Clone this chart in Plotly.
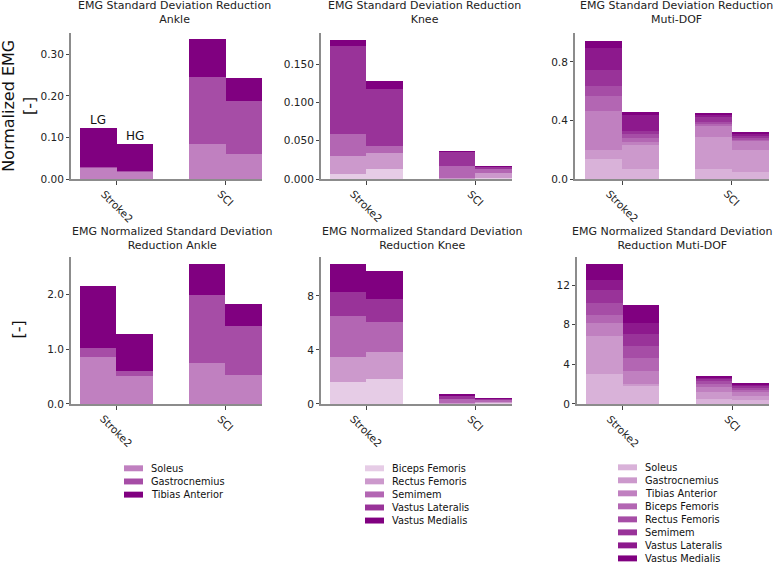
import plotly.graph_objects as go
from plotly.subplots import make_subplots

# ---------------- data ----------------
categories = ["Stroke2", "SCI"]
groups = ["LG", "HG"]
ankle_muscles = ["Soleus", "Gastrocnemius", "Tibias Anterior"]
knee_muscles = ["Biceps Femoris", "Rectus Femoris", "Semimem", "Vastus Lateralis", "Vastus Medialis"]
multi_muscles = ankle_muscles + knee_muscles

# order of each list: [Stroke2 LG, Stroke2 HG, SCI LG, SCI HG]
# EMG Standard Deviation Reduction (top row)
sd_ankle = [
    [0.029, 0.018, 0.085, 0.062],   # Soleus
    [0.002, 0.002, 0.161, 0.126],   # Gastrocnemius
    [0.093, 0.065, 0.091, 0.055],   # Tibias Anterior
]
sd_knee = [
    [0.0065, 0.013, 0.0005, 0.002],   # Biceps Femoris
    [0.0242, 0.021, 0.0010, 0.006],   # Rectus Femoris
    [0.0288, 0.009, 0.0155, 0.0055],  # Semimem
    [0.1151, 0.075, 0.0195, 0.003],   # Vastus Lateralis
    [0.0078, 0.011, 0.0005, 0.001],   # Vastus Medialis
]
sd_multi = [
    [0.142, 0.070, 0.074, 0.052],
    [0.056, 0.162, 0.214, 0.146],
    [0.270, 0.027, 0.079, 0.068],
    [0.101, 0.027, 0.013, 0.009],
    [0.067, 0.024, 0.014, 0.010],
    [0.114, 0.023, 0.030, 0.013],
    [0.147, 0.107, 0.021, 0.014],
    [0.049, 0.022, 0.012, 0.010],
]
# EMG Normalized Standard Deviation Reduction (bottom row)
nsd_ankle = [
    [0.855, 0.506, 0.752, 0.530],
    [0.155, 0.084, 1.243, 0.886],
    [1.140, 0.687, 0.555, 0.410],
]
nsd_knee = [
    [1.63, 1.80, 0.02, 0.10],
    [1.86, 2.00, 0.03, 0.09],
    [2.97, 2.25, 0.32, 0.11],
    [1.78, 1.73, 0.27, 0.08],
    [2.10, 2.05, 0.02, 0.01],
]
nsd_multi = [
    [3.00, 1.83, 0.50, 0.33],
    [3.83, 0.17, 0.73, 0.50],
    [1.34, 1.27, 0.44, 0.34],
    [0.83, 1.30, 0.33, 0.26],
    [1.17, 1.26, 0.27, 0.24],
    [1.33, 1.17, 0.23, 0.13],
    [1.00, 1.17, 0.18, 0.10],
    [1.57, 1.76, 0.15, 0.10],
]

titles = [
    "EMG Standard Deviation Reduction<br>Ankle",
    "EMG Standard Deviation Reduction<br>Knee",
    "EMG Standard Deviation Reduction<br>Muti-DOF",
    "EMG Normalized Standard Deviation<br>Reduction Ankle",
    "EMG Normalized Standard Deviation<br>Reduction Knee",
    "EMG Normalized Standard Deviation<br>Reduction Muti-DOF",
]

# ---------------- styling ----------------
W, H = 778, 569
FONT = "DejaVu Sans"
alpha_ankle = [0.5, 0.7, 1.0]
alpha_knee = [0.2, 0.4, 0.6, 0.8, 1.0]
alpha_multi = [0.3, 0.4, 0.5, 0.6, 0.7, 0.8, 0.9, 1.0]


def purple(a):
    r = round(255 - 127 * a)
    g = round(255 * (1 - a))
    return f"rgb({r},{g},{r})"


def px_x(p):
    return p / W


def px_y(p):
    return 1 - p / H


bar_w = 0.335

panels = [
    # (row, col, muscles, data, alphas, yrange, tickvals, tickformat, xdom px, xrange, title center px)
    (1, 1, ankle_muscles, sd_ankle, alpha_ankle, [0, 0.352], [0, 0.1, 0.2, 0.3], ".2f", (71, 262), [-0.42, 1.335], 174),
    (1, 2, knee_muscles, sd_knee, alpha_knee, [0, 0.191], [0, 0.05, 0.10, 0.15], ".3f", (321, 512), [-0.413, 1.335], 424.5),
    (1, 3, multi_muscles, sd_multi, alpha_multi, [0, 1.0], [0, 0.4, 0.8], ".1f", (575, 769), [-0.43, 1.338], 676),
    (2, 1, ankle_muscles, nsd_ankle, alpha_ankle, [0, 2.68], [0, 1, 2], ".1f", (71, 262), [-0.415, 1.335], 172.5),
    (2, 2, knee_muscles, nsd_knee, alpha_knee, [0, 10.86], [0, 4, 8], "d", (321, 512), [-0.413, 1.335], 422.8),
    (2, 3, multi_muscles, nsd_multi, alpha_multi, [0, 14.8], [0, 4, 8, 12], "d", (577, 769), [-0.417, 1.334], 672.5),
]
ydom_px = {1: (33, 181), 2: (260, 408.3)}
title_cy = {1: 12.5, 2: 241}

fig = make_subplots(rows=2, cols=3)

xpos = []
for i, _ in enumerate(categories):
    xpos += [i - bar_w / 2, i + bar_w / 2]

annotations = []
for k, (row, col, muscles, data, alphas, yr, tv, tf, xd, xr, tcx) in enumerate(panels):
    for j, m in enumerate(muscles):
        fig.add_trace(
            go.Bar(
                x=xpos, y=data[j], width=bar_w, name=m,
                marker=dict(color=purple(alphas[j]), line=dict(width=0)),
                showlegend=False,
                hovertemplate=m + ": %{y}<extra></extra>",
            ),
            row=row, col=col,
        )
    n = k + 1
    xa = "xaxis" if n == 1 else f"xaxis{n}"
    ya = "yaxis" if n == 1 else f"yaxis{n}"
    yd = ydom_px[row]
    fig.update_layout(**{
        xa: dict(domain=[px_x(xd[0]), px_x(xd[1])], range=xr, tickvals=[0, 1],
                 showticklabels=False, ticks="outside", ticklen=4, tickcolor="#444",
                 showline=True, linecolor="#8c8c8c", linewidth=2, showgrid=False,
                 zeroline=False, fixedrange=True),
        ya: dict(domain=[px_y(yd[1]), px_y(yd[0])], range=yr, tickvals=tv,
                 tickformat=tf, ticks="outside", ticklen=3, tickcolor="#444",
                 showline=True, linecolor="#8c8c8c", linewidth=2, showgrid=False,
                 zeroline=False, tickfont=dict(family=FONT, size=10.5, color="#222"),
                 fixedrange=True),
    })
    xref = "x" if n == 1 else f"x{n}"
    # rotated category labels
    for i, c in enumerate(categories):
        annotations.append(dict(
            x=i, xref=xref, y=px_y(yd[1]), yref="paper", yshift=-6,
            text=c, textangle=45, showarrow=False, xanchor="center", yanchor="top",
            font=dict(family=FONT, size=10.5, color="#222"),
        ))
    # subplot title
    annotations.append(dict(
        x=px_x(tcx), xref="paper", y=px_y(title_cy[row]), yref="paper",
        text=titles[k], showarrow=False, xanchor="center", yanchor="middle",
        font=dict(family=FONT, size=11, color="#222"),
    ))

# LG / HG labels on the first panel
lg_tot = sum(d[0] for d in sd_ankle)
hg_tot = sum(d[1] for d in sd_ankle)
for g, xv, yv in [(groups[0], xpos[0], lg_tot), (groups[1], xpos[1], hg_tot)]:
    annotations.append(dict(
        x=xv, xref="x", y=yv, yref="y", yshift=-1, text=g, showarrow=False,
        xanchor="center", yanchor="bottom",
        font=dict(family=FONT, size=12, color="#111"),
    ))

# y-axis labels
annotations.append(dict(
    x=px_x(19), xref="paper", y=px_y(107), yref="paper",
    text="Normalized EMG<br>[-]", textangle=-90, showarrow=False,
    xanchor="center", yanchor="middle",
    font=dict(family=FONT, size=16, color="#111"),
))
annotations.append(dict(
    x=px_x(18), xref="paper", y=px_y(333), yref="paper",
    text="[-]", textangle=-90, showarrow=False,
    xanchor="center", yanchor="middle",
    font=dict(family=FONT, size=16, color="#111"),
))

# manual legends below each column
shapes = []
legends = [
    (ankle_muscles, alpha_ankle, 124, 473.3, 13.3),
    (knee_muscles, alpha_knee, 365, 473.3, 13.2),
    (multi_muscles, alpha_multi, 618, 472.3, 13.15),
]
for muscles, alphas, x0, y0, dy in legends:
    for j, m in enumerate(muscles):
        yc = y0 + j * dy
        shapes.append(dict(
            type="rect", xref="paper", yref="paper",
            x0=px_x(x0), x1=px_x(x0 + 19), y0=px_y(yc + 3), y1=px_y(yc - 3),
            fillcolor=purple(alphas[j]), line=dict(width=0),
        ))
        annotations.append(dict(
            x=px_x(x0 + 25), xref="paper", y=px_y(yc), yref="paper",
            text=m, showarrow=False, xanchor="left", yanchor="middle",
            font=dict(family=FONT, size=9.8, color="#111"),
        ))

fig.update_layout(
    width=W, height=H, barmode="stack", bargap=0,
    margin=dict(l=0, r=0, t=0, b=0),
    paper_bgcolor="white", plot_bgcolor="white",
    annotations=annotations, shapes=shapes, showlegend=False,
)

fig.write_html(
    "out.html",
    config={"displayModeBar": False},
    post_script="document.body.style.margin='0px';document.body.style.padding='0px';",
)
